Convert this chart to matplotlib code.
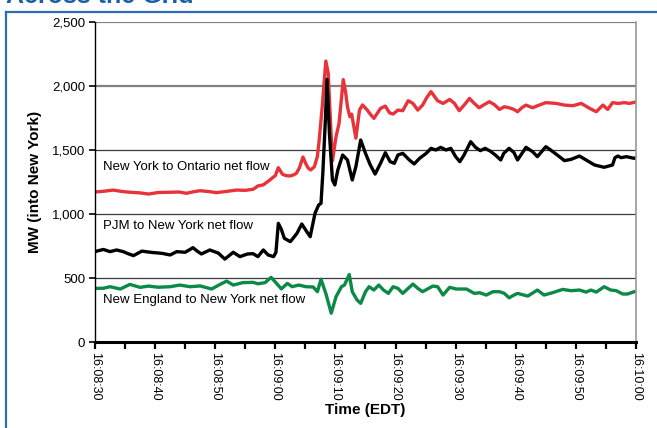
import matplotlib
matplotlib.use('Agg')
import matplotlib.pyplot as plt
from matplotlib.lines import Line2D

plt.rcParams['font.family'] = ['Liberation Sans', 'DejaVu Sans']

# seconds after 16:08:30
ont_t = [0, 1.5, 3.0, 4.5, 5.8, 7.5, 8.9, 10.5, 12.5, 14, 15.2, 16.5, 17.5, 19, 20.2,
         21.8, 23.5, 25, 26.3, 27.1, 28.0, 28.5, 29.1, 29.6, 30.0, 30.5, 31.2, 31.8,
         32.4, 33.0, 33.5, 34.0, 34.6, 35.1, 35.5, 35.9, 36.5, 37.0, 37.3, 37.8, 38.4,
         38.8, 39.1, 39.5, 40.1, 40.6, 41.3, 41.7, 42.0, 42.4, 42.7, 43.0, 43.4, 44.0,
         44.5, 45.3, 45.8, 46.4, 47.5, 48.3, 49.0, 49.6, 50.4, 51.2, 52.1, 52.9, 53.7,
         54.5, 55.2, 55.9, 57.0, 57.9, 59.0, 59.8, 60.6, 61.5, 62.3, 63.1, 63.9, 64.8,
         65.6, 66.4, 67.3, 68.1, 68.9, 69.7, 70.3, 71.0, 71.7, 72.8, 73.9, 75.0, 76.7,
         78.1, 79.5, 80.9, 82.3, 83.4, 84.5, 85.3, 86.1, 87.0, 88.1, 88.9, 90.0]
ont_mw = [1172, 1178, 1187, 1176, 1170, 1165, 1156, 1168, 1170, 1172, 1162, 1175, 1182,
          1175, 1167, 1176, 1187, 1185, 1193, 1219, 1228, 1245, 1266, 1286, 1300, 1362,
          1310, 1300, 1297, 1305, 1318, 1360, 1445, 1390, 1357, 1344, 1370, 1450, 1578,
          1838, 2195, 2100, 1800, 1415, 1604, 1708, 2050, 1950, 1838, 1760, 1780, 1700,
          1592, 1812, 1852, 1812, 1780, 1747, 1825, 1843, 1790, 1781, 1812, 1807, 1885,
          1864, 1812, 1851, 1910, 1956, 1885, 1864, 1895, 1864, 1807, 1856, 1903, 1864,
          1830, 1856, 1877, 1856, 1817, 1838, 1830, 1817, 1799, 1830, 1851, 1830, 1851,
          1870, 1864, 1851, 1846, 1864, 1825, 1799, 1851, 1817, 1870, 1864, 1870, 1864,
          1875]

pjm_t = [0, 0.7, 1.4, 2.5, 3.6, 4.7, 5.5, 6.4, 7.8, 9.4, 11.1, 12.5, 13.6, 15.0, 16.3,
         17.0, 17.7, 19.1, 20.5, 21.6, 23.0, 24.1, 25.4, 26.3, 27.1, 28.0, 28.8, 29.7,
         30.1, 30.5, 31.0, 31.5, 32.5, 33.6, 34.4, 35.3, 35.8, 36.6, 37.2, 37.6, 37.9,
         38.3, 38.6, 39.0, 39.5, 39.9, 40.4, 41.2, 42.0, 42.8, 43.4, 44.2, 45.0, 45.8,
         46.6, 47.5, 48.3, 49.1, 49.8, 50.4, 51.2, 52.3, 53.1, 54.0, 55.1, 55.9, 56.7,
         57.5, 58.4, 59.2, 60.0, 60.7, 61.4, 62.5, 63.3, 64.1, 64.9, 65.8, 66.6, 67.5,
         68.0, 68.9, 69.7, 70.3, 71.7, 72.8, 73.6, 75.0, 75.8, 76.9, 78.1, 79.2, 80.6,
         81.7, 83.1, 84.7, 86.1, 86.5, 87.0, 87.5, 88.4, 89.7, 90.0]
pjm_mw = [706, 715, 723, 706, 719, 706, 690, 675, 710, 700, 693, 680, 706, 701, 737,
          710, 688, 719, 695, 648, 701, 667, 688, 690, 667, 719, 680, 667, 700, 927,
          880, 810, 784, 849, 922, 857, 823, 1005, 1070, 1083, 1318, 1708, 2052, 1630,
          1266, 1227, 1344, 1461, 1422, 1266, 1370, 1578, 1474, 1383, 1312, 1396, 1479,
          1409, 1396, 1461, 1474, 1422, 1391, 1435, 1474, 1513, 1500, 1521, 1500, 1513,
          1448, 1409, 1461, 1565, 1521, 1495, 1513, 1490, 1461, 1422, 1474, 1513, 1480,
          1422, 1521, 1487, 1448, 1526, 1500, 1461, 1417, 1427, 1453, 1422, 1383, 1365,
          1383, 1440, 1453, 1440, 1448, 1435, 1440]

ne_t = [0, 1.4, 2.5, 4.2, 5.8, 7.5, 8.9, 10.5, 12.5, 14.1, 15.8, 17.5, 19.4, 20.8, 21.9,
        23.0, 24.6, 26.3, 27.1, 28.3, 29.3, 30.2, 31.0, 32.0, 32.8, 33.9, 35.1, 36.3,
        37.0, 37.6, 38.4, 39.3, 40.1, 41.0, 41.5, 42.3, 42.8, 43.6, 44.2, 45.0, 45.6,
        46.4, 47.2, 48.0, 48.8, 49.6, 50.4, 51.2, 52.1, 52.9, 53.7, 54.5, 56.2, 57.0,
        57.9, 59.0, 60.1, 61.8, 63.1, 64.0, 65.1, 66.2, 67.3, 68.1, 68.9, 69.7, 70.3,
        72.0, 73.6, 74.7, 76.1, 77.8, 79.2, 80.6, 81.7, 82.5, 83.4, 84.7, 85.8, 86.7,
        87.8, 88.6, 89.7, 90.0]
ne_mw = [419, 420, 432, 414, 450, 427, 437, 428, 432, 445, 432, 438, 414, 450, 476,
         445, 464, 466, 455, 464, 505, 458, 415, 458, 432, 445, 432, 430, 393, 490,
         380, 225, 354, 432, 445, 527, 393, 328, 302, 393, 432, 406, 445, 406, 380,
         432, 419, 380, 419, 453, 419, 393, 437, 432, 367, 427, 414, 414, 380, 385,
         367, 393, 393, 380, 345, 367, 380, 359, 406, 367, 385, 411, 401, 406, 390,
         406, 390, 432, 406, 401, 375, 375, 393, 393]

xtick_pos = list(range(0, 91, 5))
xtick_labels = ['16:08:30', '', '16:08:40', '', '16:08:50', '', '16:09:00', '',
                '16:09:10', '', '16:09:20', '', '16:09:30', '', '16:09:40', '',
                '16:09:50', '', '16:10:00']
ytick_pos = [0, 500, 1000, 1500, 2000, 2500]
ytick_labels = ['0', '500', '1,000', '1,500', '2,000', '2,500']

fig = plt.figure(figsize=(6.57, 4.28), dpi=100)
ax = fig.add_axes([0.1446, 0.2009, 0.8234, 0.7477])

# gridlines
for y in ytick_pos[1:]:
    if y >= 2000:
        ax.axhline(y, color='#808080', lw=1.6, zorder=0)
    else:
        ax.axhline(y, color='#3a3a3a', lw=0.9, zorder=0)

ax.plot(ont_t, ont_mw, color='#e8333a', lw=2.4, solid_joinstyle='round')
ax.plot(pjm_t, pjm_mw, color='black', lw=2.4, solid_joinstyle='round')
ax.plot(ne_t, ne_mw, color='#0b8a47', lw=2.4, solid_joinstyle='round')

ax.text(1.3, 1365, 'New York to Ontario net flow', fontsize=9.5, va='center')
ax.text(1.3, 906, 'PJM to New York net flow', fontsize=9.5, va='center')
ax.text(1.3, 330, 'New England to New York net flow', fontsize=9.5, va='center')

ax.set_xlim(0, 90)
ax.set_ylim(0, 2500)
ax.set_xticks(xtick_pos)
ax.set_xticklabels(xtick_labels, rotation=270, fontsize=9)
ax.set_yticks(ytick_pos)
ax.set_yticklabels(ytick_labels, fontsize=9.5)
ax.tick_params(axis='x', length=5, width=1.6, pad=2)
ax.tick_params(axis='y', length=4, width=1.2, pad=3)

ax.spines['top'].set_visible(False)
ax.spines['right'].set_color('#999999')
ax.spines['right'].set_linewidth(1.2)
ax.spines['left'].set_linewidth(1.0)
ax.spines['bottom'].set_linewidth(2.2)

ax.set_xlabel('Time (EDT)', fontsize=11, fontweight='bold', va='top')
ax.xaxis.set_label_coords(0.5, -0.19)
ax.set_ylabel('MW (into New York)', fontsize=11, fontweight='bold', va='center')
ax.yaxis.set_label_coords(-0.11, 0.5)

# cropped section header and blue frame
fig.text(6 / 657, 1 - 3 / 428, 'Across the Grid', color='#1b5fa9',
         fontsize=18, fontweight='bold', ha='left', va='baseline')
blue = '#2a6db5'
fig.add_artist(Line2D([6 / 657, 1], [1 - 12 / 428] * 2, transform=fig.transFigure,
                      color=blue, lw=1.6))
fig.add_artist(Line2D([6 / 657] * 2, [0, 1 - 12 / 428], transform=fig.transFigure,
                      color=blue, lw=1.6))

fig.savefig('out.png', dpi=100)
